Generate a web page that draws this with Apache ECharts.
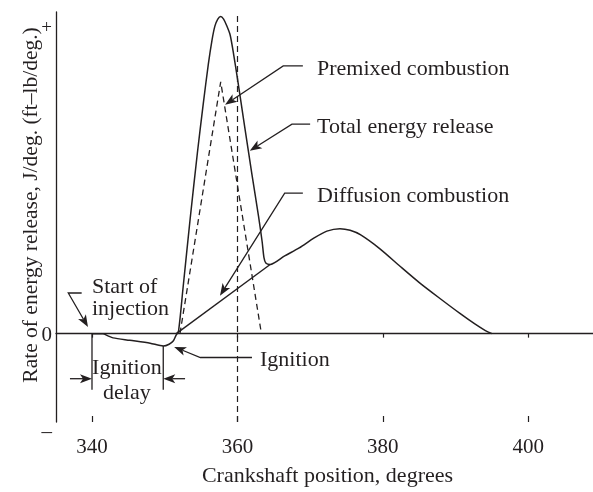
<!DOCTYPE html>
<html><head><meta charset="utf-8">
<script src="https://cdn.jsdelivr.net/npm/echarts@6/dist/echarts.min.js"></script>
<style>html,body{margin:0;padding:0;background:#fff}#c{width:593px;height:492px}</style>
</head><body><div id="c"></div>
<script>
// ---- data ----
const xTicks = [340, 360, 380, 400];
const yTickValues = [-10, 0, 35];
const yTickLabels = ['–', '0', '+'];

const totalDeg = [340, 341.5, 342.2, 342.9, 345.2, 348.0, 349.8, 350.6, 351.2, 351.55, 351.9,
  352.5, 353.5, 354.5, 355.3, 356.0, 356.5, 356.9, 357.3, 357.7, 358.1, 358.5, 359.0, 359.5,
  360.0, 361.0, 362.0, 362.9, 363.4, 363.65, 363.9, 364.5, 366.5, 368.5, 370.5, 372.3, 374.1,
  375.5, 376.9, 379.6, 382.4, 385.1, 387.9, 390.6, 392.7, 394.1, 395.0];
const totalRate = [0, 0, -0.25, -0.48, -0.75, -1.08, -1.4, -1.2, -0.8, -0.2, 0.3,
  5, 13, 20.5, 26, 30.5, 33.2, 34.8, 35.6, 35.9, 35.6, 34.9, 33.8, 31.5,
  28.9, 23.4, 18.0, 13.3, 10.4, 8.6, 8.0, 7.83, 8.8, 9.7, 10.8, 11.6, 11.88,
  11.7, 11.2, 9.6, 7.6, 5.72, 3.95, 2.29, 1.07, 0.35, 0];

const premixedDeg = [352.1, 357.7, 363.3];
const premixedRate = [0, 28.5, 0];

const diffusionDeg = [351.6, 364.5];
const diffusionRate = [0, 7.83];

const topDeadCentre = 360;

// annotations (data coordinates)
const labelTexts = ['Premixed combustion', 'Total energy release', 'Diffusion combustion',
  'Start of', 'injection', 'Ignition', 'Ignition', 'delay'];
const labelDeg = [370.95, 370.95, 370.95, 340, 340, 363.1, 344.8, 344.8];
const labelRate = [30.3, 23.7, 15.9, 5.6, 3.05, -2.7, -3.6, -6.35];
const labelAlign = ['left', 'left', 'left', 'left', 'left', 'left', 'center', 'center'];

const arrowPaths = [
  [[369.0, 30.3], [366.3, 30.3], [358.3, 25.9]],
  [[370.0, 23.7], [367.5, 23.7], [361.7, 20.7]],
  [[369.0, 15.9], [366.5, 15.9], [357.6, 4.3]],
  [[338.58, 4.6], [336.74, 4.6], [339.45, 0.75]],
  [[362.0, -2.7], [354.9, -2.7], [351.3, -1.5]],
  [[336.97, -5.1], [340, -5.1]],
  [[352.8, -5.1], [349.8, -5.1]]
];
const plainPaths = [
  [[340, 0], [340, -6.35]],
  [[349.8, -1.4], [349.8, -6.35]]
];

// ---- chart ----
const FONT = 'Liberation Serif';
const INK = '#231f20';
const chart = echarts.init(document.getElementById('c'), null, {renderer: 'canvas'});
const pairs = (xs, ys) => xs.map((x, i) => [x, ys[i]]);
const richKeys = ['m', 'z', 'p'];

const option = {
  animation: false,
  backgroundColor: '#fff',
  grid: {left: 56, right: 0, top: 12, bottom: 61},
  xAxis: [{
    type: 'value', min: 335.05, max: 408.9, position: 'bottom',
    name: 'Crankshaft position, degrees', nameLocation: 'middle', nameGap: 43,
    nameTextStyle: {fontFamily: FONT, fontSize: 22, color: INK, padding: [0, 0, 0, 6]},
    axisLine: {show: true, lineStyle: {color: INK, width: 1.3}},
    axisTick: {show: true, customValues: xTicks, length: 4, inside: false, lineStyle: {color: INK, width: 1.2}},
    axisLabel: {customValues: xTicks, fontFamily: FONT, fontSize: 21, color: INK, margin: 15},
    splitLine: {show: false}
  }, {
    type: 'value', min: 335.05, max: 408.9, position: 'bottom', offset: 0,
    axisLine: {show: false},
    axisTick: {show: true, customValues: xTicks, length: 6, inside: true, lineStyle: {color: INK, width: 1.2}},
    axisLabel: {show: false},
    splitLine: {show: false}
  }],
  yAxis: {
    type: 'value', min: -10, max: 36.4,
    axisLine: {show: true, lineStyle: {color: INK, width: 1.3}},
    axisTick: {show: false},
    axisLabel: {
      customValues: yTickValues, fontFamily: FONT, fontSize: 21, color: INK, margin: 4,
      formatter: v => {
        const i = yTickValues.indexOf(v);
        return '{' + richKeys[i] + '|' + yTickLabels[i] + '}';
      },
      rich: {
        m: {fontFamily: FONT, fontSize: 21, color: INK, padding: [20, 0, 0, 0]},
        z: {fontFamily: FONT, fontSize: 21, color: INK, padding: [4, 0, 0, 0]},
        p: {fontFamily: FONT, fontSize: 19, color: INK, padding: [8, 0, 0, 0]}
      }
    },
    splitLine: {show: false}
  },
  series: [{
    name: 'Total energy release', type: 'line', data: pairs(totalDeg, totalRate),
    showSymbol: false, smooth: 0.25, lineStyle: {color: INK, width: 1.5},
    markLine: {
      silent: true, symbol: 'none', animation: false,
      lineStyle: {color: INK, width: 1.2, type: [6, 4]}, label: {show: false},
      data: [{yAxis: 0}, {xAxis: topDeadCentre}]
    },
    z: 3
  }, {
    name: 'Premixed combustion', type: 'line', data: pairs(premixedDeg, premixedRate),
    showSymbol: false, lineStyle: {color: INK, width: 1.3, type: [6, 4]}, z: 2
  }, {
    name: 'Diffusion combustion', type: 'line', data: pairs(diffusionDeg, diffusionRate),
    showSymbol: false, lineStyle: {color: INK, width: 1.4}, z: 2
  }]
};
chart.setOption(option);

function px(p) { return chart.convertToPixel({xAxisIndex: 0, yAxisIndex: 0}, p); }
const graphics = [];
graphics.push({
  type: 'text', x: 31, y: 205, rotation: Math.PI / 2,
  style: {text: 'Rate of energy release, J/deg. (ft–lb/deg.)', fontFamily: FONT, fontSize: 21.5,
    fill: INK, align: 'center', verticalAlign: 'middle'}
});
labelTexts.forEach((t, i) => {
  const p = px([labelDeg[i], labelRate[i]]);
  graphics.push({type: 'text', x: p[0], y: p[1] + 3,
    style: {text: t, fontFamily: FONT, fontSize: 22, fill: INK, align: labelAlign[i], verticalAlign: 'middle'}});
});
function arrowHead(a, b) {
  const dx = b[0] - a[0], dy = b[1] - a[1];
  const L = Math.hypot(dx, dy), ux = dx / L, uy = dy / L, nx = -uy, ny = ux;
  const len = 12, hw = 4.5, notch = 3;
  return [[b[0], b[1]],
    [b[0] - ux * len + nx * hw, b[1] - uy * len + ny * hw],
    [b[0] - ux * (len - notch), b[1] - uy * (len - notch)],
    [b[0] - ux * len - nx * hw, b[1] - uy * len - ny * hw]];
}
arrowPaths.forEach(path => {
  const pts = path.map(px);
  const n = pts.length;
  const head = arrowHead(pts[n - 2], pts[n - 1]);
  const linePts = pts.slice(0, n - 1).concat([head[2]]);
  graphics.push({type: 'polyline', shape: {points: linePts}, style: {stroke: INK, lineWidth: 1.3, fill: null}, z: 10});
  graphics.push({type: 'polygon', shape: {points: head}, style: {fill: INK, stroke: null}, z: 10});
});
plainPaths.forEach(path => {
  graphics.push({type: 'polyline', shape: {points: path.map(px)}, style: {stroke: INK, lineWidth: 1.3, fill: null}, z: 10});
});
chart.setOption({graphic: graphics});
</script>
</body></html>
